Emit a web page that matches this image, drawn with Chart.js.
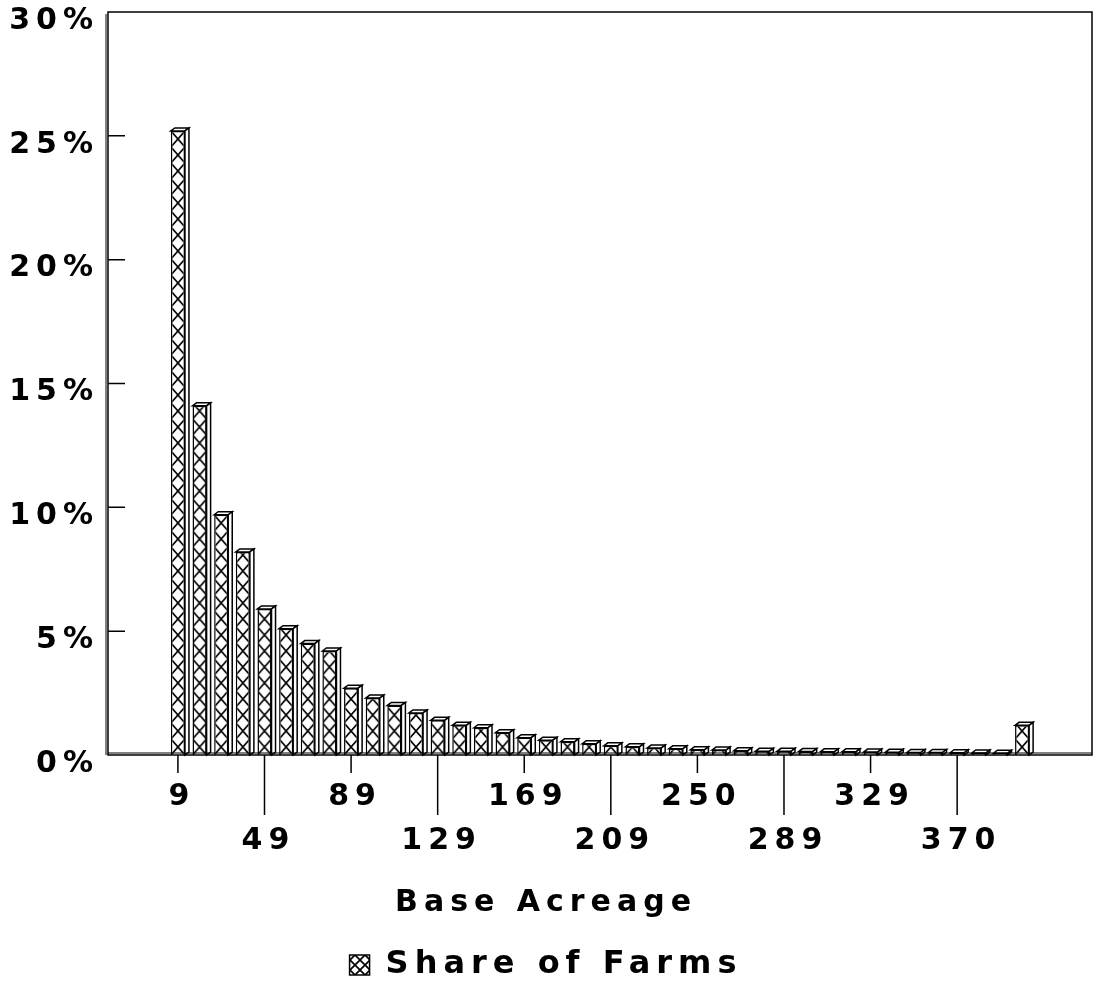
<!DOCTYPE html>
<html>
<head>
<meta charset="utf-8">
<title>Share of Farms by Base Acreage</title>
<script src="https://cdn.jsdelivr.net/npm/chart.js@4/dist/chart.umd.min.js"></script>
<style>
  html, body { margin: 0; padding: 0; background: #fff; }
  #wrap { width: 1098px; height: 991px; position: relative; }
</style>
</head>
<body>
<div id="wrap"><canvas id="farmChart"></canvas></div>
<script>
// Acreage bins (only every 4th one is printed under the axis)
const categories = ['9','19','29','39','49','59','69','79','89','99',
  '109','119','129','139','149','159','169','179','189','199',
  '209','219','229','239','250','259','269','279','289','299',
  '309','319','329','339','349','359','370','379','389','399'];

// share of farms in each bin, %
const shareOfFarms = [25.2, 14.1, 9.7, 8.2, 5.9, 5.1, 4.5, 4.2, 2.7, 2.3,
  2.0, 1.7, 1.4, 1.2, 1.1, 0.9, 0.7, 0.6, 0.53, 0.45,
  0.37, 0.33, 0.28, 0.25, 0.21, 0.2, 0.17, 0.15, 0.15, 0.14,
  0.13, 0.13, 0.12, 0.11, 0.1, 0.1, 0.09, 0.08, 0.07, 1.2];

const tickLabels = ['9','49','89','129','169','209','250','289','329','370'];
const yTicks = [0, 5, 10, 15, 20, 25, 30];

const FONT = { family: "'DejaVu Sans', sans-serif", weight: 'bold', size: 30 };
const SPACING = '6px';
const BAR_PCT = 0.65;
const DX = 4, DY = 3;   // depth of the fake 3D boxes

// crosshatch tile: one X per cell
const makeTile = (w, h) => {
  const c = document.createElement('canvas');
  c.width = w; c.height = h;
  const g = c.getContext('2d');
  g.fillStyle = '#fff';
  g.fillRect(0, 0, w, h);
  g.strokeStyle = '#000';
  g.lineWidth = 1.7;
  g.beginPath();
  g.moveTo(0, 0); g.lineTo(w, h);
  g.moveTo(w, 0); g.lineTo(0, h);
  g.stroke();
  return c;
};
const barTile = makeTile(14, 16);
const legendTile = makeTile(10, 10);

// pattern lined up with the left edge of each bar
const hatchFor = (c) => {
  const chart = c.chart;
  const pat = chart.ctx.createPattern(barTile, 'repeat');
  const sx = chart.scales.x, sy = chart.scales.y;
  if (c.type !== 'data' || !sx || !sy) return pat;
  const step = sx.getPixelForValue(1) - sx.getPixelForValue(0);
  const left = sx.getPixelForValue(c.dataIndex) - step * BAR_PCT / 2;
  const base = sy.getPixelForValue(0);
  if (isFinite(left) && isFinite(base)) {
    pat.setTransform(new DOMMatrix().translate(left, base));
  }
  return pat;
};

const boxes3d = {
  id: 'boxes3d',
  beforeLayout(chart) { chart.ctx.letterSpacing = SPACING; },
  beforeDraw(chart) { chart.ctx.letterSpacing = SPACING; },
  afterDatasetsDraw(chart) {
    const ctx = chart.ctx;
    const meta = chart.getDatasetMeta(0);
    ctx.save();
    ctx.lineWidth = 1.5;
    ctx.strokeStyle = '#000';
    ctx.fillStyle = '#fff';
    meta.data.forEach(bar => {
      const { x, y, base, width } = bar.getProps(['x', 'y', 'base', 'width'], true);
      const l = x - width / 2, r = x + width / 2;
      // top face
      ctx.beginPath();
      ctx.moveTo(l, y); ctx.lineTo(l + DX, y - DY); ctx.lineTo(r + DX, y - DY); ctx.lineTo(r, y);
      ctx.closePath(); ctx.fill(); ctx.stroke();
      // right face
      ctx.beginPath();
      ctx.moveTo(r, y); ctx.lineTo(r + DX, y - DY); ctx.lineTo(r + DX, base - DY); ctx.lineTo(r, base);
      ctx.closePath(); ctx.fill(); ctx.stroke();
    });
    ctx.restore();
  },
  afterDraw(chart) {
    const { ctx, chartArea: a, scales } = chart;
    ctx.save();
    ctx.strokeStyle = '#000';
    ctx.lineWidth = 1.5;
    ctx.strokeRect(a.left, a.top, a.right - a.left, a.bottom - a.top);
    // double left wall and floor edge
    ctx.lineWidth = 1;
    ctx.beginPath();
    ctx.moveTo(a.left - 2, a.top + 2); ctx.lineTo(a.left - 2, a.bottom);
    ctx.moveTo(a.left, a.bottom - 2); ctx.lineTo(a.right, a.bottom - 2);
    ctx.stroke();
    // y ticks point into the plot
    ctx.lineWidth = 1.5;
    ctx.beginPath();
    scales.y.ticks.forEach(t => {
      if (t.value <= 0 || t.value >= 30) return;
      const py = scales.y.getPixelForValue(t.value);
      ctx.moveTo(a.left, py); ctx.lineTo(a.left + 17, py);
    });
    // x ticks: short for the upper row, long for the lower row
    scales.x.ticks.forEach((t, i) => {
      const px = scales.x.getPixelForValue(t.value);
      ctx.moveTo(px, a.bottom); ctx.lineTo(px, a.bottom + (i % 2 ? 60 : 18));
    });
    ctx.stroke();
    ctx.restore();
  }
};

new Chart(document.getElementById('farmChart'), {
  type: 'bar',
  data: {
    datasets: [{
      label: 'Share of Farms',
      data: shareOfFarms.map((v, i) => ({ x: i, y: v })),
      backgroundColor: hatchFor,
      borderColor: '#000',
      borderWidth: 1.5,
      barPercentage: BAR_PCT,
      categoryPercentage: 1
    }]
  },
  options: {
    responsive: true,
    maintainAspectRatio: false,
    animation: false,
    layout: { padding: { top: 12, right: 6, left: 0, bottom: 0 } },
    scales: {
      x: {
        type: 'linear',
        offset: false,
        min: -3.23,
        max: categories.length - 1 + 3.23,
        grid: { display: false, drawTicks: false, offset: false },
        border: { display: false },
        afterBuildTicks: s => { s.ticks = tickLabels.map(l => ({ value: categories.indexOf(l) })); },
        ticks: {
          autoSkip: false,
          maxRotation: 0,
          padding: 20,
          labelOffset: 4,
          color: '#000',
          font: { ...FONT, lineHeight: '44px' },
          callback: (v, i) => (i % 2 ? ['', categories[v]] : categories[v])
        },
        afterFit: s => { s.height = 108; s.paddingLeft = 0; s.paddingRight = 0; }
      },
      y: {
        min: 0,
        max: 30,
        grid: { display: false, drawTicks: false },
        border: { display: false },
        afterBuildTicks: s => { s.ticks = yTicks.map(v => ({ value: v })); },
        ticks: {
          padding: 9,
          labelOffset: 9,
          color: '#000',
          font: FONT,
          callback: v => v + '%'
        },
        afterFit: s => { s.width = 108; s.paddingTop = 0; s.paddingBottom = 0; }
      }
    },
    plugins: {
      tooltip: { enabled: false },
      title: {
        display: true,
        text: 'Base Acreage',
        position: 'bottom',
        weight: 500,
        color: '#000',
        font: FONT,
        padding: { top: 22, bottom: 18 }
      },
      legend: {
        position: 'bottom',
        weight: 1000,
        labels: {
          boxWidth: 20,
          boxHeight: 20,
          padding: 10,
          color: '#000',
          font: { ...FONT, size: 32 },
          generateLabels: chart => [{
            text: 'Share of Farms',
            fillStyle: chart.ctx.createPattern(legendTile, 'repeat'),
            strokeStyle: '#000',
            lineWidth: 1.5,
            hidden: false,
            datasetIndex: 0
          }]
        }
      }
    }
  },
  plugins: [boxes3d]
});
</script>
</body>
</html>
